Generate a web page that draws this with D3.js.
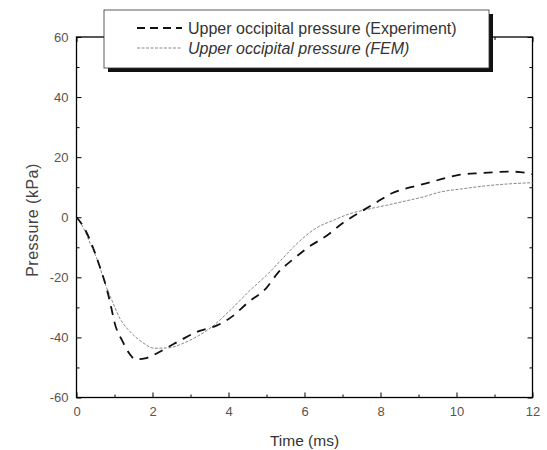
<!DOCTYPE html>
<html>
<head>
<meta charset="utf-8">
<script src="https://cdn.jsdelivr.net/npm/d3@7"></script>
<style>
  body { margin: 0; background: #fff; }
  svg { font-family: "Liberation Sans", Arial, sans-serif; }
  .tick text { fill: #555; font-size: 13px; }
</style>
</head>
<body>
<svg id="chart"></svg>
<script>
// Values (time in ms, pressure in kPa)
const expTime = [0, 0.2, 0.4, 0.6, 0.8, 0.93, 1.0, 1.2, 1.4, 1.55, 1.8, 2.0, 2.4, 2.8, 3.2, 3.7, 4.1, 4.5, 5.0, 5.3, 5.7, 6.1, 6.6, 7.0, 7.5, 7.9, 8.3, 8.8, 9.2, 9.7, 10.1, 10.5, 11.0, 11.4, 11.8, 12];
const expPressure = [0, -3.5, -9, -16, -24, -31, -35, -41, -45.5, -47.3, -47, -46, -43.3, -40.5, -38, -36, -33, -28.5, -23.5, -18.5, -14, -10, -6, -2, 2, 5, 8, 10, 11.3, 13, 14.2, 14.6, 15, 15.2, 14.8, 14.3];

const femTime = [0, 0.2, 0.36, 0.57, 0.75, 0.93, 1.14, 1.45, 1.72, 2.05, 2.4, 2.8, 3.2, 3.56, 4.04, 4.57, 5.0, 5.44, 5.8, 6.32, 6.76, 7.2, 7.64, 8.16, 8.69, 9.13, 9.57, 10.18, 10.88, 11.5, 12];
const femPressure = [0, -4, -8.7, -14.9, -22, -27.6, -33.6, -38.6, -41.5, -43.6, -43.5, -42, -39.5, -36.5, -31, -24.3, -19.3, -13.5, -8.8, -3.5, -1, 1.2, 2.6, 4, 5.5, 6.8, 8.4, 9.5, 10.6, 11.2, 11.5];

const xMajor = [0, 2, 4, 6, 8, 10, 12];
const xMinor = [1, 3, 5, 7, 9, 11];
const yMajor = [-60, -40, -20, 0, 20, 40, 60];
const yMinor = [-50, -30, -10, 10, 30, 50];

const legendLabels = ["Upper occipital pressure (Experiment)", "Upper occipital pressure (FEM)"];

const W = 547, H = 450;
const plot = {left: 76.5, right: 532.5, top: 37, bottom: 397.5};

const svg = d3.select("#chart")
  .attr("width", W)
  .attr("height", H);

const x = d3.scaleLinear().domain([0, 12]).range([plot.left, plot.right]);
const y = d3.scaleLinear().domain([-60, 60]).range([plot.bottom, plot.top]);

// plain hyphen for negatives, like the original
const fmt = (d) => String(d);

// ticks on all four sides, pointing inward
function addAxis(axis, transform) {
  const g = svg.append("g")
    .attr("transform", transform)
    .call(axis);
  g.select(".domain").remove();
  g.selectAll(".tick line").attr("stroke", "#000").attr("stroke-width", 1);
  return g;
}

addAxis(d3.axisBottom(x).tickValues(xMajor).tickSize(-5).tickPadding(9).tickFormat(fmt),
  `translate(0,${plot.bottom})`);
addAxis(d3.axisBottom(x).tickValues(xMinor).tickSize(-3).tickFormat(""),
  `translate(0,${plot.bottom})`);
addAxis(d3.axisTop(x).tickValues(xMajor).tickSize(-5).tickFormat(""),
  `translate(0,${plot.top})`);
addAxis(d3.axisTop(x).tickValues(xMinor).tickSize(-3).tickFormat(""),
  `translate(0,${plot.top})`);
addAxis(d3.axisLeft(y).tickValues(yMajor).tickSize(-5).tickPadding(8).tickFormat(fmt),
  `translate(${plot.left},0)`);
addAxis(d3.axisLeft(y).tickValues(yMinor).tickSize(-3).tickFormat(""),
  `translate(${plot.left},0)`);
addAxis(d3.axisRight(y).tickValues(yMajor).tickSize(-5).tickFormat(""),
  `translate(${plot.right},0)`);
addAxis(d3.axisRight(y).tickValues(yMinor).tickSize(-3).tickFormat(""),
  `translate(${plot.right},0)`);

// frame
svg.append("rect")
  .attr("x", plot.left)
  .attr("y", plot.top)
  .attr("width", plot.right - plot.left)
  .attr("height", plot.bottom - plot.top)
  .attr("fill", "none")
  .attr("stroke", "#000")
  .attr("stroke-width", 1.3);

// curves
const line = d3.line()
  .x((d) => x(d[0]))
  .y((d) => y(d[1]))
  .curve(d3.curveMonotoneX);

const expData = expTime.map((t, i) => [t, expPressure[i]]);
const femData = femTime.map((t, i) => [t, femPressure[i]]);

svg.append("path")
  .datum(femData)
  .attr("d", line)
  .attr("fill", "none")
  .attr("stroke", "#888")
  .attr("stroke-width", 1)
  .attr("stroke-dasharray", "3,1.5");

svg.append("path")
  .datum(expData)
  .attr("d", line)
  .attr("fill", "none")
  .attr("stroke", "#111")
  .attr("stroke-width", 1.8)
  .attr("stroke-dasharray", "9,7");

// axis titles
svg.append("text")
  .attr("x", (plot.left + plot.right) / 2)
  .attr("y", 446)
  .attr("text-anchor", "middle")
  .attr("font-size", "15.5px")
  .attr("fill", "#333")
  .text("Time (ms)");

svg.append("text")
  .attr("transform", `translate(38, 220) rotate(-90)`)
  .attr("text-anchor", "middle")
  .attr("font-size", "16px")
  .attr("letter-spacing", "0.5px")
  .attr("fill", "#444")
  .text("Pressure (kPa)");

// legend with drop shadow
const legend = svg.append("g").attr("class", "legend");
const box = {x: 104, y: 10, w: 385, h: 58};

legend.append("rect")
  .attr("x", box.x + 4)
  .attr("y", box.y + 4)
  .attr("width", box.w)
  .attr("height", box.h)
  .attr("fill", "#111");

legend.append("rect")
  .attr("x", box.x)
  .attr("y", box.y)
  .attr("width", box.w)
  .attr("height", box.h)
  .attr("fill", "#fff")
  .attr("stroke", "#333")
  .attr("stroke-width", 0.8);

const legendStyles = [
  {stroke: "#111", width: 1.8, dash: "8,5", italic: false},
  {stroke: "#888", width: 1, dash: "3,1.5", italic: true}
];

legendLabels.forEach((label, i) => {
  const ly = box.y + 18 + i * 20;
  const st = legendStyles[i];
  legend.append("line")
    .attr("x1", 137)
    .attr("x2", 182)
    .attr("y1", ly)
    .attr("y2", ly)
    .attr("stroke", st.stroke)
    .attr("stroke-width", st.width)
    .attr("stroke-dasharray", st.dash);
  legend.append("text")
    .attr("x", 188)
    .attr("y", ly)
    .attr("dy", "0.35em")
    .attr("font-size", "16px")
    .attr("font-style", st.italic ? "italic" : "normal")
    .attr("fill", "#333")
    .text(label);
});
</script>
</body>
</html>
